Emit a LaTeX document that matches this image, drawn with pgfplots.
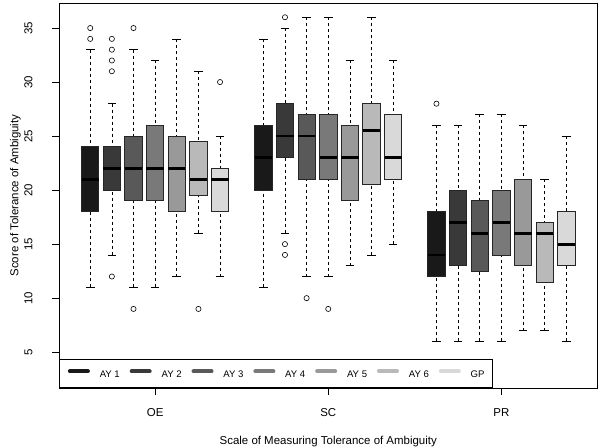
\documentclass[border=0pt]{standalone}
\usepackage{pgfplots}
\pgfplotsset{compat=1.18}
\usepgfplotslibrary{statistics}
\usepackage{fontspec}
\setmainfont{Liberation Sans}
\definecolor{g1}{gray}{0.10}
\definecolor{g2}{gray}{0.225}
\definecolor{g3}{gray}{0.35}
\definecolor{g4}{gray}{0.475}
\definecolor{g5}{gray}{0.60}
\definecolor{g6}{gray}{0.725}
\definecolor{g7}{gray}{0.85}
\pgfplotsset{
  rb/.style={forget plot, solid, draw=black!85, line width=0.8bp, fill=#1,
    mark=o, mark size=2.6bp, mark options={draw=black, fill=none, solid, line width=0.6bp}},
}
\begin{document}
\begin{tikzpicture}
\useasboundingbox (-59.5bp,-60bp) rectangle (540.5bp,388bp);
\begin{axis}[
  at={(0,0)}, anchor=south west,
  scale only axis, width=537.5bp, height=385bp,
  xmin=-0.42, xmax=24.42, ymin=1.68, ymax=37.32,
  xtick={4,12,20}, xticklabels={OE,SC,PR},
  ytick={5,10,15,20,25,30,35},
  xtick pos=lower, ytick pos=left,
  tick align=outside, major tick length=7bp,
  every tick/.style={black, line width=0.6bp},
  axis line style={black, line width=0.75bp},
  /pgf/number format/assume math mode=true,
  ticklabel style={font=\fontsize{11.5}{13}\selectfont},
  yticklabel style={rotate=90, anchor=base},
  xticklabel style={anchor=base},
  xticklabel shift=21bp,
  yticklabel shift=20bp,
  xlabel={Scale of Measuring Tolerance of Ambiguity},
  ylabel={Score of Tolerance of Ambiguity},
  label style={font=\fontsize{11.5}{13}\selectfont},
  xlabel style={at={(axis description cs:0.5,0)}, anchor=base, yshift=-56bp},
  ylabel style={at={([xshift=-41bp]axis description cs:0,0.5)}, anchor=base},
  boxplot/draw direction=y,
  boxplot/box extend=0.8,
  boxplot/every median/.style={black, solid, line width=2.8bp},
  boxplot/draw/lower whisker/.code={%
    \draw[black, solid, line width=0.6bp, dash pattern=on 3bp off 3bp, fill=none]
      (boxplot box cs:\pgfplotsboxplotvalue{lower whisker},0.5) -- (boxplot box cs:\pgfplotsboxplotvalue{lower quartile},0.5);
    \draw[black, solid, line width=0.6bp, fill=none]
      (boxplot box cs:\pgfplotsboxplotvalue{lower whisker},0.25) -- (boxplot box cs:\pgfplotsboxplotvalue{lower whisker},0.75);
  },
  boxplot/draw/upper whisker/.code={%
    \draw[black, solid, line width=0.6bp, dash pattern=on 3bp off 3bp, fill=none]
      (boxplot box cs:\pgfplotsboxplotvalue{upper whisker},0.5) -- (boxplot box cs:\pgfplotsboxplotvalue{upper quartile},0.5);
    \draw[black, solid, line width=0.6bp, fill=none]
      (boxplot box cs:\pgfplotsboxplotvalue{upper whisker},0.25) -- (boxplot box cs:\pgfplotsboxplotvalue{upper whisker},0.75);
  },
  legend style={at={(0,0)}, anchor=south west, legend columns=7, draw=black, line width=0.75bp,
    font=\fontsize{9.6}{11}\selectfont, inner xsep=8bp, inner ysep=9.7bp, column sep=9.9bp,
    nodes={inner sep=0pt, text height=6.6bp, text depth=0pt}},
  legend image code/.code={\draw[#1] (0bp,3.3bp) -- (18bp,3.3bp);},
]
% ---- OE ----
\addplot[rb=g1, boxplot prepared={lower whisker=11, lower quartile=18, median=21, upper quartile=24, upper whisker=33, draw position=1}] table[row sep=\\, y index=0] {y\\35\\34\\};
\addplot[rb=g2, boxplot prepared={lower whisker=14, lower quartile=20, median=22, upper quartile=24, upper whisker=28, draw position=2}] table[row sep=\\, y index=0] {y\\34\\33\\32\\31\\12\\};
\addplot[rb=g3, boxplot prepared={lower whisker=11, lower quartile=19, median=22, upper quartile=25, upper whisker=33, draw position=3}] table[row sep=\\, y index=0] {y\\35\\9\\};
\addplot[rb=g4, boxplot prepared={lower whisker=11, lower quartile=19, median=22, upper quartile=26, upper whisker=32, draw position=4}] coordinates {};
\addplot[rb=g5, boxplot prepared={lower whisker=12, lower quartile=18, median=22, upper quartile=25, upper whisker=34, draw position=5}] coordinates {};
\addplot[rb=g6, boxplot prepared={lower whisker=16, lower quartile=19.5, median=21, upper quartile=24.5, upper whisker=31, draw position=6}] table[row sep=\\, y index=0] {y\\9\\};
\addplot[rb=g7, boxplot prepared={lower whisker=12, lower quartile=18, median=21, upper quartile=22, upper whisker=25, draw position=7}] table[row sep=\\, y index=0] {y\\30\\};
% ---- SC ----
\addplot[rb=g1, boxplot prepared={lower whisker=11, lower quartile=20, median=23, upper quartile=26, upper whisker=34, draw position=9}] coordinates {};
\addplot[rb=g2, boxplot prepared={lower whisker=16, lower quartile=23, median=25, upper quartile=28, upper whisker=35, draw position=10}] table[row sep=\\, y index=0] {y\\36\\15\\14\\};
\addplot[rb=g3, boxplot prepared={lower whisker=12, lower quartile=21, median=25, upper quartile=27, upper whisker=36, draw position=11}] table[row sep=\\, y index=0] {y\\10\\};
\addplot[rb=g4, boxplot prepared={lower whisker=12, lower quartile=21, median=23, upper quartile=27, upper whisker=36, draw position=12}] table[row sep=\\, y index=0] {y\\9\\};
\addplot[rb=g5, boxplot prepared={lower whisker=13, lower quartile=19, median=23, upper quartile=26, upper whisker=32, draw position=13}] coordinates {};
\addplot[rb=g6, boxplot prepared={lower whisker=14, lower quartile=20.5, median=25.5, upper quartile=28, upper whisker=36, draw position=14}] coordinates {};
\addplot[rb=g7, boxplot prepared={lower whisker=15, lower quartile=21, median=23, upper quartile=27, upper whisker=32, draw position=15}] coordinates {};
% ---- PR ----
\addplot[rb=g1, boxplot prepared={lower whisker=6, lower quartile=12, median=14, upper quartile=18, upper whisker=26, draw position=17}] table[row sep=\\, y index=0] {y\\28\\};
\addplot[rb=g2, boxplot prepared={lower whisker=6, lower quartile=13, median=17, upper quartile=20, upper whisker=26, draw position=18}] coordinates {};
\addplot[rb=g3, boxplot prepared={lower whisker=6, lower quartile=12.5, median=16, upper quartile=19, upper whisker=27, draw position=19}] coordinates {};
\addplot[rb=g4, boxplot prepared={lower whisker=6, lower quartile=14, median=17, upper quartile=20, upper whisker=27, draw position=20}] coordinates {};
\addplot[rb=g5, boxplot prepared={lower whisker=7, lower quartile=13, median=16, upper quartile=21, upper whisker=26, draw position=21}] coordinates {};
\addplot[rb=g6, boxplot prepared={lower whisker=7, lower quartile=11.5, median=16, upper quartile=17, upper whisker=21, draw position=22}] coordinates {};
\addplot[rb=g7, boxplot prepared={lower whisker=6, lower quartile=13, median=15, upper quartile=18, upper whisker=25, draw position=23}] coordinates {};
% ---- legend ----
\addlegendimage{g1, line width=4bp, line cap=round}\addlegendentry{AY 1}
\addlegendimage{g2, line width=4bp, line cap=round}\addlegendentry{AY 2}
\addlegendimage{g3, line width=4bp, line cap=round}\addlegendentry{AY 3}
\addlegendimage{g4, line width=4bp, line cap=round}\addlegendentry{AY 4}
\addlegendimage{g5, line width=4bp, line cap=round}\addlegendentry{AY 5}
\addlegendimage{g6, line width=4bp, line cap=round}\addlegendentry{AY 6}
\addlegendimage{g7, line width=4bp, line cap=round}\addlegendentry{GP}
\end{axis}
\end{tikzpicture}
\end{document}
